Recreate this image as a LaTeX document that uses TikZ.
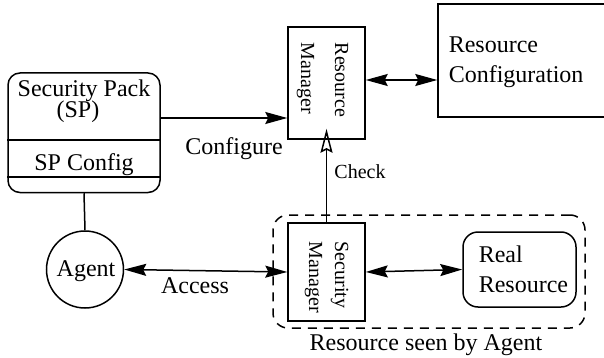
\documentclass[tikz,border=0pt]{standalone}
\usepackage{fontspec}
\setmainfont{Liberation Serif}
\usetikzlibrary{arrows.meta}
\tikzset{
  every picture/.style={line width=0.75pt},
  box/.style={draw, rectangle, inner sep=0pt},
  rbox/.style={draw, rectangle, rounded corners=7.5pt, inner sep=0pt},
  txt/.style={inner sep=0pt, font=\fontsize{12}{14}\selectfont},
  small/.style={inner sep=0pt, font=\fontsize{10}{12}\selectfont},
  rot/.style={small, rotate=-90, anchor=base west},
  arr/.style={-{Stealth[length=11pt,width=6pt,inset=1.5pt]}},
  darr/.style={{Stealth[length=11pt,width=6pt,inset=1.5pt]}-{Stealth[length=11pt,width=6pt,inset=1.5pt]}},
  oarr/.style={-{Stealth[open,length=12pt,width=6pt,inset=1.5pt]}, shorten >=-5.5pt},
}
\begin{document}
\begin{tikzpicture}[x=0.5pt,y=-0.5pt]
\useasboundingbox (0,0) rectangle (604,358);
\clip (0,0) rectangle (604,358);
% Security Pack
\node[box, rounded corners=6pt, minimum width=76pt, minimum height=59.75pt] (sp) at (84,132.75) {};
\draw (sp.west |- 0,140) -- (sp.east |- 0,140);
\draw (sp.west |- 0,177) -- (sp.east |- 0,177);
\node[txt, anchor=base] (spt1) at (84,97) {Security Pack};
\node[txt, anchor=base] (spt2) at (78,118) {(SP)};
\node[txt, anchor=base] (spt3) at (84,170) {SP Config};
% Agent
\node[draw, circle, minimum size=38.5pt, inner sep=0pt] (agent) at (85,269.5) {};
\node[txt, anchor=base] (agt) at (86,276) {Agent};
% Resource Manager
\node[box, minimum width=38.5pt, minimum height=56pt] (rm) at (326.5,83) {};
\node[rot] (rmt1) at (335,42) {Resource};
\node[rot] (rmt2) at (301,42) {Manager};
% Resource Configuration
\node[box, minimum width=84pt, minimum height=56.5pt] (rc) at (522,60.5) {};
\node[txt, anchor=base west] (rct1) at (448,53) {Resource};
\node[txt, anchor=base west] (rct2) at (448,83) {Configuration};
% Dashed region
\node[draw, dash pattern=on 4.5pt off 3.5pt, rounded corners=7.5pt, minimum width=156pt, minimum height=56.5pt, inner sep=0pt] (region) at (429,271.5) {};
\node[txt, anchor=base] (regt) at (426,350) {Resource seen by Agent};
% Security Manager
\node[box, minimum width=38.5pt, minimum height=49pt] (sm) at (326.5,272) {};
\node[rot] (smt1) at (335,241) {Security};
\node[rot] (smt2) at (309,241) {Manager};
% Real Resource
\node[rbox, minimum width=56.5pt, minimum height=37.5pt] (rr) at (519.5,269.5) {};
\node[txt, anchor=base west] (rrt1) at (478,262) {Real};
\node[txt, anchor=base west] (rrt2) at (478,292) {Resource};
% connectors
\coordinate (cfy) at (0,118);
\coordinate (rcy) at (0,80);
\draw[arr] (sp.east |- cfy) -- (rm.west |- cfy);
\node[txt, anchor=base] (cfl) at (234,155) {Configure};
\draw[darr] (rm.east |- rcy) -- (rc.west |- rcy);
\draw[oarr] (sm.north) -- (rm.south);
\node[small, anchor=base] (ckl) at (360,178) {Check};
\draw (sp.south) -- (agent.north);
\draw[darr] (agent.east) -- (sm.west);
\node[txt, anchor=base] (acl) at (195,293) {Access};
\draw[darr] (sm.east) -- (rr.west);
\end{tikzpicture}
\end{document}
